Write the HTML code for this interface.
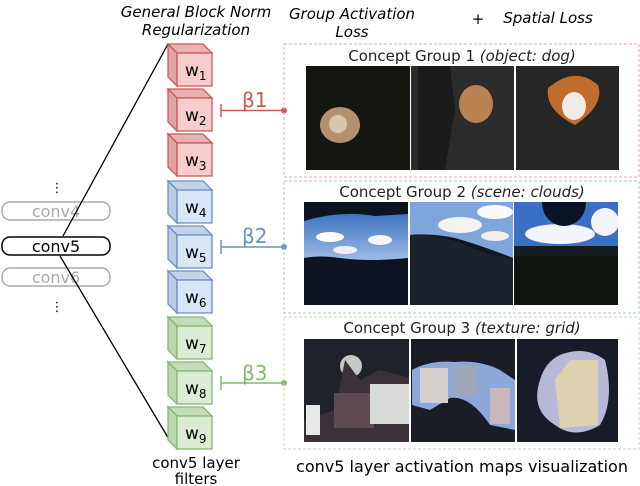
<!DOCTYPE html>
<html><head><meta charset="utf-8"><style>
html,body{margin:0;padding:0;background:#fff;width:640px;height:486px;overflow:hidden}
svg{display:block}
text{font-family:"DejaVu Sans","Liberation Sans",sans-serif}
</style></head><body>
<svg width="640" height="486" viewBox="0 0 640 486" xmlns="http://www.w3.org/2000/svg">
<defs>
<g id="cubeR"><polygon points="168,0 203,0 212,9 177,9" fill="#e9b1b1" stroke="#c85a5a" stroke-width="1.3"/><polygon points="168,0 177,9 177,42 168,33" fill="#e0a3a3" stroke="#c85a5a" stroke-width="1.3"/><rect x="177" y="9" width="35" height="33" fill="#f6cccc" stroke="#c85a5a" stroke-width="1.3"/></g>
<g id="cubeB"><polygon points="168,0 203,0 212,9 177,9" fill="#c3d3ea" stroke="#6c8fc6" stroke-width="1.3"/><polygon points="168,0 177,9 177,42 168,33" fill="#b9cbe6" stroke="#6c8fc6" stroke-width="1.3"/><rect x="177" y="9" width="35" height="33" fill="#d9e6f8" stroke="#6c8fc6" stroke-width="1.3"/></g>
<g id="cubeG"><polygon points="168,0 203,0 212,9 177,9" fill="#c5dcbb" stroke="#86b870" stroke-width="1.3"/><polygon points="168,0 177,9 177,42 168,33" fill="#bbd5ae" stroke="#86b870" stroke-width="1.3"/><rect x="177" y="9" width="35" height="33" fill="#dcebd3" stroke="#86b870" stroke-width="1.3"/></g>
<linearGradient id="sky" x1="0" y1="0" x2="0" y2="1"><stop offset="0" stop-color="#3e72c2"/><stop offset="1" stop-color="#9dbbe4"/></linearGradient>
<clipPath id="c23"><rect x="514" y="202" width="104" height="103"/></clipPath>
</defs>

<!-- headers -->
<text x="196" y="17" font-size="15" font-style="italic" text-anchor="middle">General Block Norm</text>
<text x="196" y="35" font-size="15" font-style="italic" text-anchor="middle">Regularization</text>
<text x="352" y="19" font-size="15" font-style="italic" text-anchor="middle">Group Activation</text>
<text x="352" y="37" font-size="15" font-style="italic" text-anchor="middle">Loss</text>
<text x="478" y="24" font-size="15" text-anchor="middle">+</text>
<text x="548" y="23" font-size="15" font-style="italic" text-anchor="middle">Spatial Loss</text>

<!-- conv pills -->
<text x="57" y="192" font-size="13" text-anchor="middle">⋮</text>
<rect x="2" y="202" width="108" height="18" rx="8" fill="none" stroke="#aaa" stroke-width="1.5"/>
<text x="56" y="217" font-size="16" fill="#aaa" text-anchor="middle">conv4</text>
<rect x="2" y="237" width="108" height="18" rx="8" fill="none" stroke="#000" stroke-width="1.5"/>
<text x="56" y="252" font-size="16" text-anchor="middle">conv5</text>
<rect x="2" y="268" width="108" height="18" rx="8" fill="none" stroke="#aaa" stroke-width="1.5"/>
<text x="56" y="283" font-size="16" fill="#aaa" text-anchor="middle">conv6</text>
<text x="57" y="311" font-size="13" text-anchor="middle">⋮</text>
<line x1="63" y1="236" x2="168" y2="44" stroke="#000" stroke-width="1.3"/>
<line x1="60" y1="256" x2="170" y2="441" stroke="#000" stroke-width="1.3"/>

<!-- cubes -->
<use href="#cubeR" transform="translate(0,44)"/>
<use href="#cubeR" transform="translate(0,89)"/>
<use href="#cubeR" transform="translate(0,134)"/>
<use href="#cubeB" transform="translate(0,181)"/>
<use href="#cubeB" transform="translate(0,226)"/>
<use href="#cubeB" transform="translate(0,271)"/>
<use href="#cubeG" transform="translate(0,317)"/>
<use href="#cubeG" transform="translate(0,362)"/>
<use href="#cubeG" transform="translate(0,407)"/>
<g font-size="17">
<text x="185" y="76">w<tspan font-size="12" dy="4">1</tspan></text>
<text x="185" y="121">w<tspan font-size="12" dy="4">2</tspan></text>
<text x="185" y="166">w<tspan font-size="12" dy="4">3</tspan></text>
<text x="185" y="213">w<tspan font-size="12" dy="4">4</tspan></text>
<text x="185" y="258">w<tspan font-size="12" dy="4">5</tspan></text>
<text x="185" y="303">w<tspan font-size="12" dy="4">6</tspan></text>
<text x="185" y="349">w<tspan font-size="12" dy="4">7</tspan></text>
<text x="185" y="394">w<tspan font-size="12" dy="4">8</tspan></text>
<text x="185" y="439">w<tspan font-size="12" dy="4">9</tspan></text>
</g>
<text x="196" y="468" font-size="15" text-anchor="middle">conv5 layer</text>
<text x="196" y="484" font-size="15" text-anchor="middle">filters</text>

<!-- beta connectors -->
<g stroke="#c85a5a" stroke-width="1.5"><line x1="221" y1="110.5" x2="284" y2="110.5"/><line x1="221" y1="104" x2="221" y2="117"/></g>
<circle cx="284" cy="110.5" r="3" fill="#c85a5a"/>
<text x="242" y="107" font-size="20" fill="#c85a5a">β1</text>
<g stroke="#6c8fc6" stroke-width="1.5"><line x1="221" y1="247" x2="284" y2="247"/><line x1="221" y1="240" x2="221" y2="254"/></g>
<circle cx="284" cy="247" r="3" fill="#6c8fc6"/>
<text x="242" y="243" font-size="20" fill="#6c8fc6">β2</text>
<g stroke="#86b870" stroke-width="1.5"><line x1="221" y1="383" x2="284" y2="383"/><line x1="221" y1="376" x2="221" y2="390"/></g>
<circle cx="284" cy="383" r="3" fill="#86b870"/>
<text x="242" y="380" font-size="20" fill="#86b870">β3</text>

<!-- group boxes -->
<rect x="284" y="44" width="355" height="133" fill="none" stroke="#e5a5a5" stroke-dasharray="3,2"/>
<rect x="284" y="181" width="355" height="132" fill="none" stroke="#a8bfe2" stroke-dasharray="3,2"/>
<rect x="284" y="317" width="355" height="132" fill="none" stroke="#bfdcb2" stroke-dasharray="3,2"/>
<text x="462" y="61" font-size="15" text-anchor="middle" fill="#222">Concept Group 1 <tspan font-style="italic">(object: dog)</tspan></text>
<text x="462" y="197" font-size="15" text-anchor="middle" fill="#222">Concept Group 2 <tspan font-style="italic">(scene: clouds)</tspan></text>
<text x="462" y="333" font-size="15" text-anchor="middle" fill="#222">Concept Group 3 <tspan font-style="italic">(texture: grid)</tspan></text>

<!-- group1 images -->
<rect x="306" y="66" width="104" height="104" fill="#141610"/>
<ellipse cx="340" cy="125" rx="20" ry="18" fill="#b39170"/>
<ellipse cx="338" cy="124" rx="9" ry="9" fill="#d8c6aa"/>
<rect x="411" y="66" width="103" height="104" fill="#2c2c2c"/>
<path d="M418 66 L450 66 L455 110 L445 170 L418 170 Z" fill="#1a1a1a"/>
<ellipse cx="476" cy="104" rx="17" ry="19" fill="#b98250"/>
<rect x="516" y="66" width="103" height="104" fill="#262626"/>
<path d="M548 88 Q575 65 598 85 Q605 105 575 125 Q545 110 548 88 Z" fill="#c06c2c"/>
<ellipse cx="574" cy="106" rx="12" ry="14" fill="#f0ebe6"/>

<!-- group2 images -->
<rect x="304" y="202" width="104" height="103" fill="#0d1320"/>
<path d="M304 221 Q340 210 375 216 L408 214 L408 258 Q370 262 340 258 Q320 255 304 258 Z" fill="url(#sky)"/>
<ellipse cx="330" cy="237" rx="14" ry="5" fill="#fff"/><ellipse cx="380" cy="240" rx="12" ry="5" fill="#f2f4fa"/><ellipse cx="345" cy="250" rx="12" ry="4" fill="#eef"/>
<rect x="410" y="202" width="103" height="103" fill="#101620"/>
<path d="M410 202 L513 202 L513 258 Q480 245 455 238 Q430 233 410 235 Z" fill="#7fa6da"/>
<ellipse cx="460" cy="225" rx="22" ry="8" fill="#f3f3f3"/><ellipse cx="495" cy="212" rx="18" ry="7" fill="#fafafa"/><ellipse cx="495" cy="236" rx="14" ry="5" fill="#eee"/>
<path d="M410 235 Q440 233 470 247 L490 255 L513 258 L513 305 L410 305 Z" fill="#1c222c"/>
<g clip-path="url(#c23)">
<rect x="514" y="202" width="104" height="103" fill="#0e130d"/>
<path d="M514 202 L618 202 L618 246 L514 248 Z" fill="#3b6fc4"/>
<ellipse cx="560" cy="234" rx="35" ry="10" fill="#f3f5fa"/><ellipse cx="605" cy="222" rx="14" ry="14" fill="#f3f5fa"/>
<ellipse cx="564" cy="203" rx="22" ry="23" fill="#0b1426"/>
<rect x="514" y="246" width="104" height="10" fill="#161c20"/>
</g>

<!-- group3 images -->
<rect x="304" y="339" width="105" height="103" fill="#1e222a"/>
<circle cx="351" cy="366" r="11" fill="#c8c8c8"/>
<path d="M304 420 L335 410 L345 360 L360 380 L380 370 L409 378 L409 442 L304 442 Z" fill="#3a3238"/>
<rect x="334" y="393" width="40" height="35" fill="#5e4a52"/><rect x="370" y="384" width="39" height="40" fill="#d8dad8"/><rect x="306" y="405" width="14" height="30" fill="#e8e8e8"/>
<rect x="411" y="339" width="104" height="103" fill="#1a1d26"/>
<path d="M412 370 Q430 360 455 362 Q480 360 500 370 L515 380 L515 430 L490 425 Q470 395 450 398 L430 410 L412 405 Z" fill="#8da8d8"/>
<rect x="420" y="368" width="28" height="35" fill="#d6d0cc"/><rect x="490" y="388" width="20" height="36" fill="#c8b8bc"/><rect x="455" y="366" width="22" height="30" fill="#9ea8b8"/>
<rect x="517" y="339" width="101" height="103" fill="#181c28"/>
<path d="M560 355 Q585 345 605 360 Q615 400 600 425 Q575 440 555 425 Q530 410 540 380 Q545 362 560 355 Z" fill="#b8b8d8"/>
<path d="M570 360 L598 360 L598 425 L560 428 L555 380 Z" fill="#ddd2b0"/>

<text x="462" y="472" font-size="16" text-anchor="middle">conv5 layer activation maps visualization</text>
</svg>
</body></html>
